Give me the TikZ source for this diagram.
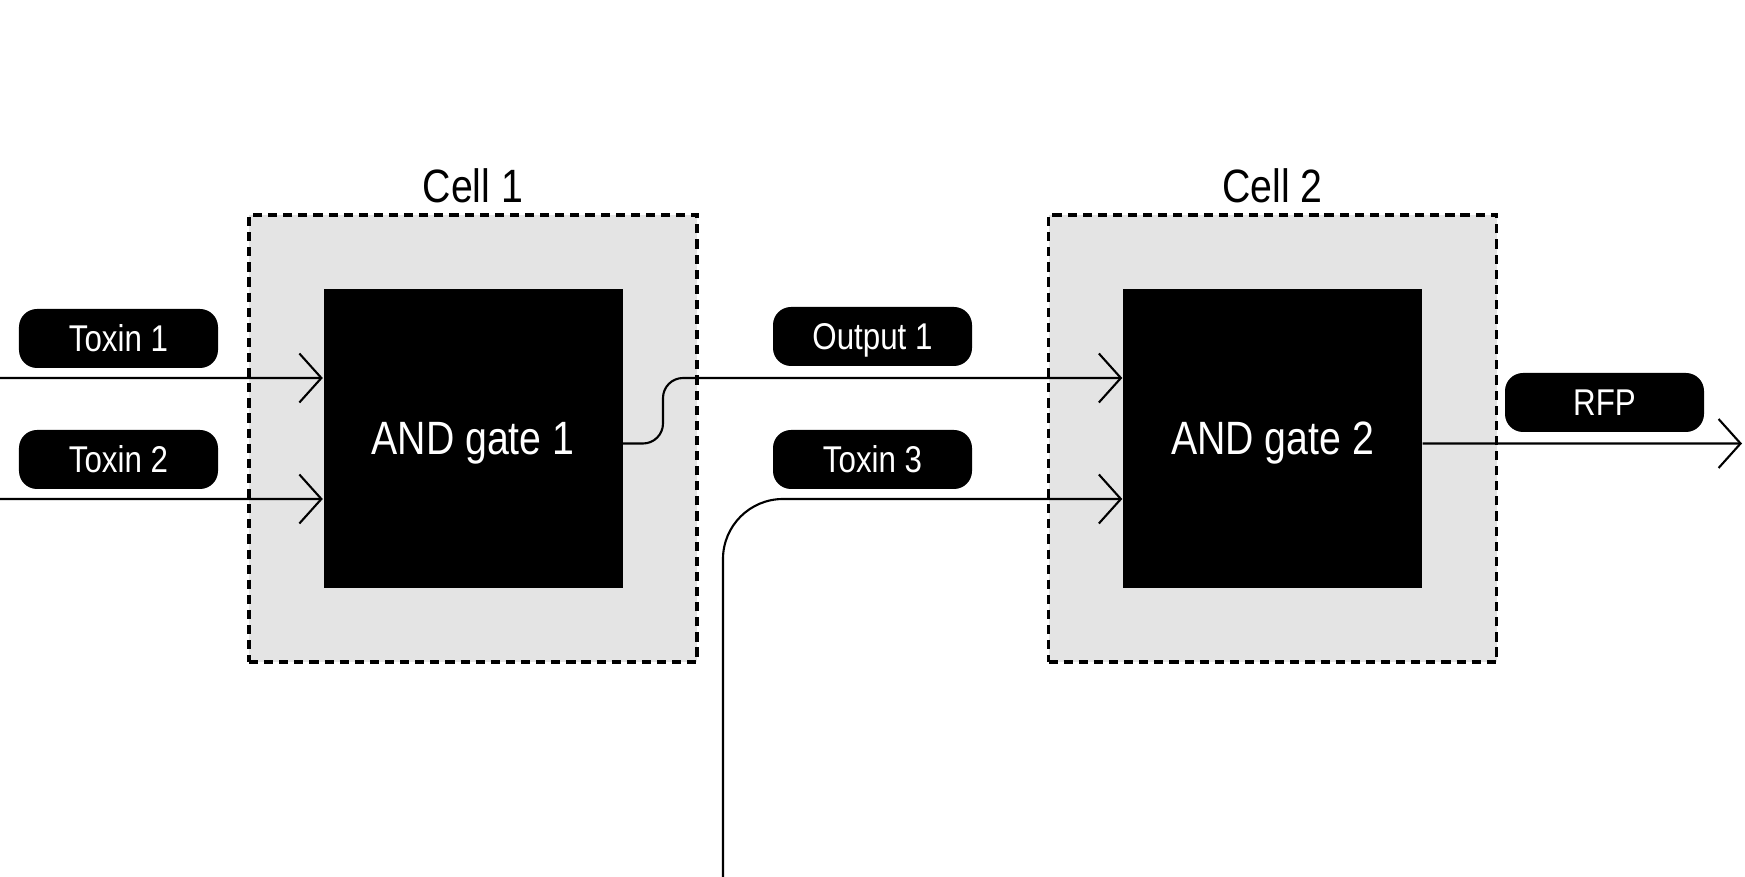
\documentclass[tikz,border=0pt]{standalone}
\usepackage{fontspec}
\setmainfont[FakeStretch=0.84]{Liberation Sans}
\usetikzlibrary{arrows.meta,positioning}
\definecolor{cellgrey}{RGB}{228,228,228}

\begin{document}
\begin{tikzpicture}[
	cell/.style = {draw, dash pattern=on 2.6pt off 1.7pt, line width=0.9pt, fill=cellgrey,
		minimum width=4.48cm, minimum height=4.47cm},
	gate/.style = {fill=black, text=white, minimum size=2.99cm, text depth=0pt,
		font=\fontsize{13.3}{16}\selectfont},
	cellname/.style = {font=\fontsize{13.3}{16}\selectfont, inner sep=0pt},
	pill/.style = {fill=black, text=white, rounded corners=1.8mm, minimum width=1.99cm,
		minimum height=0.59cm, text depth=0pt, font=\fontsize{10.6}{12}\selectfont},
	wire/.style = {line width=0.6pt, -{Straight Barb[length=2.2mm, width=4.9mm]}}
]
	\useasboundingbox (0,0) rectangle (17.45,8.77);

	\node[cell] (cell1) at (4.73,4.385) {};
	\node[cell] (cell2) at (12.725,4.385) {};
	\node[cellname, above = 1mm of cell1] {Cell 1};
	\node[cellname, above = 1mm of cell2] {Cell 2};

	\node[gate] (gate1) at (cell1.center) {AND gate 1};
	\node[gate] (gate2) at (cell2.center) {AND gate 2};

	\coordinate (in1) at ([yshift=6.05mm]gate1.west);
	\coordinate (in2) at ([yshift=-6.05mm]gate1.west);
	\coordinate (in3) at ([yshift=6.05mm]gate2.west);
	\coordinate (in4) at ([yshift=-6.05mm]gate2.west);
	\coordinate (out1) at ([yshift=-0.5mm]gate1.east);
	\coordinate (out2) at ([yshift=-0.5mm]gate2.east);
	\coordinate (src1) at (0,4.99);
	\coordinate (src2) at (0,3.78);
	\coordinate (src3) at (7.23,0);
	\coordinate (bend) at (6.63,4.99);
	\coordinate (sink) at (17.42,4.335);

	\draw[wire] (src1) -- (in1);
	\draw[wire] (src2) -- (in2);
	\draw[wire, rounded corners=2mm] (out1) -| (bend) -- (in3);
	\draw[wire, rounded corners=6mm] (src3) |- (in4);
	\draw[wire] (out2) -- (sink);

	\node[pill] (toxin1) at (1.185,5.385) {Toxin 1};
	\node[pill] (toxin2) at (1.185,4.175) {Toxin 2};
	\node[pill] (output1) at (8.725,5.405) {Output 1};
	\node[pill] (toxin3) at (8.725,4.175) {Toxin 3};
	\node[pill] (rfp) at (16.045,4.745) {RFP};
\end{tikzpicture}
\end{document}
